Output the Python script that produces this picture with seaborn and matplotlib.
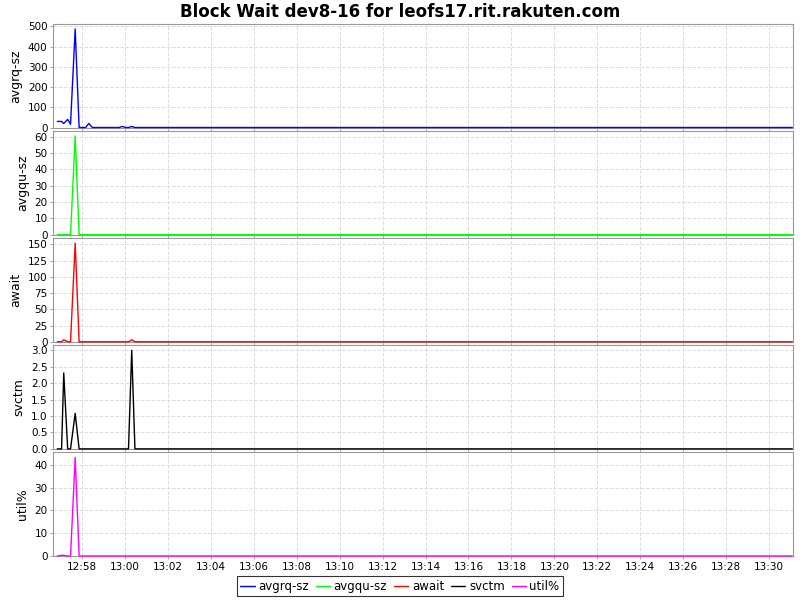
import pandas as pd
import matplotlib
matplotlib.use('Agg')
import matplotlib.pyplot as plt
import matplotlib.dates as mdates
from matplotlib.lines import Line2D
import seaborn as sns

# Sample times (all values after the last early sample stay at 0)
times = ['12:56:51', '12:57:03', '12:57:09', '12:57:20', '12:57:28', '12:57:41',
         '12:57:52', '12:58:10', '12:58:19', '12:58:29', '12:59:44', '12:59:52',
         '13:00:03', '13:00:10', '13:00:19', '13:00:28', '13:31:05']

avgrq_sz = [30, 30, 20, 40, 16, 487, 0, 0, 20, 0, 0, 5, 0, 0, 5, 0, 0]
avgqu_sz = [0, 0, 0, 0, 0, 60.5, 0, 0, 0, 0, 0, 0, 0, 0, 0, 0, 0]
await_ms = [0, 0, 3, 0, 0, 152, 0, 0, 0, 0, 0, 0, 0, 0, 3, 0, 0]
svctm = [0, 0, 2.31, 0, 0, 1.08, 0, 0, 0, 0, 0, 0, 0, 0, 3.0, 0, 0]
util_pct = [0, 0.3, 0.3, 0, 0, 43.3, 0, 0, 0, 0, 0, 0, 0, 0, 0, 0, 0]

labels = ['avgrq-sz', 'avgqu-sz', 'await', 'svctm', 'util%']
colors = ['#0000ff', '#00ff00', '#ff0000', '#000000', '#ff00ff']
tick_steps = [100, 10, 25, 0.5, 10]

df = pd.DataFrame({'time': pd.to_datetime(['2013-01-01 ' + t for t in times]),
                   'avgrq-sz': avgrq_sz, 'avgqu-sz': avgqu_sz, 'await': await_ms,
                   'svctm': svctm, 'util%': util_pct})

sns.set_style('whitegrid', {'grid.linestyle': '--', 'grid.color': '#dddddd',
                            'axes.edgecolor': '#999999', 'text.color': 'black',
                            'axes.labelcolor': 'black', 'xtick.color': 'black',
                            'ytick.color': 'black'})
plt.rcParams['font.family'] = ['DejaVu Sans']

fig, axes = plt.subplots(5, 1, figsize=(8, 6), dpi=100, sharex=True)
fig.subplots_adjust(left=53/800, right=793/800, top=1-24/600, bottom=1-556/600, hspace=0.035)

for ax, col, color, step in zip(axes, labels, colors, tick_steps):
    sns.lineplot(data=df, x='time', y=col, ax=ax, color=color, lw=1, legend=False)
    for ln in ax.lines:
        ln.set_clip_on(False)
        ln.set_zorder(5)
    top = df[col].max() * 1.05
    ax.set_ylim(0, top)
    ax.yaxis.set_major_locator(plt.MultipleLocator(step))
    if step < 1:
        ax.yaxis.set_major_formatter(plt.FormatStrFormatter('%.1f'))
    ax.set_ylabel(col, fontsize=9)
    ax.set_xlabel('')
    ax.grid(True, linewidth=0.7)
    ax.tick_params(axis='both', labelsize=7.5, length=2, width=0.6, color='#999999', pad=2, left=True, bottom=True)
    for s in ax.spines.values():
        s.set_linewidth(0.8)

axes[-1].set_xlim(pd.Timestamp('2013-01-01 12:56:39'), pd.Timestamp('2013-01-01 13:31:07'))
axes[-1].xaxis.set_major_locator(mdates.MinuteLocator(byminute=range(0, 60, 2)))
axes[-1].xaxis.set_major_formatter(mdates.DateFormatter('%H:%M'))

fig.suptitle('Block Wait dev8-16 for leofs17.rit.rakuten.com', fontsize=12, fontweight='bold', y=0.995)

handles = [Line2D([], [], color=c, lw=1) for c in colors]
leg = fig.legend(handles, labels, loc='lower center', ncol=5, bbox_to_anchor=(0.5, 0.0),
                 fontsize=8.5, frameon=True, fancybox=False, edgecolor='black',
                 handlelength=1.2, handletextpad=0.3, columnspacing=0.6, borderpad=0.3,
                 borderaxespad=0.3)
leg.get_frame().set_linewidth(0.8)

fig.savefig('out.png', dpi=100)
